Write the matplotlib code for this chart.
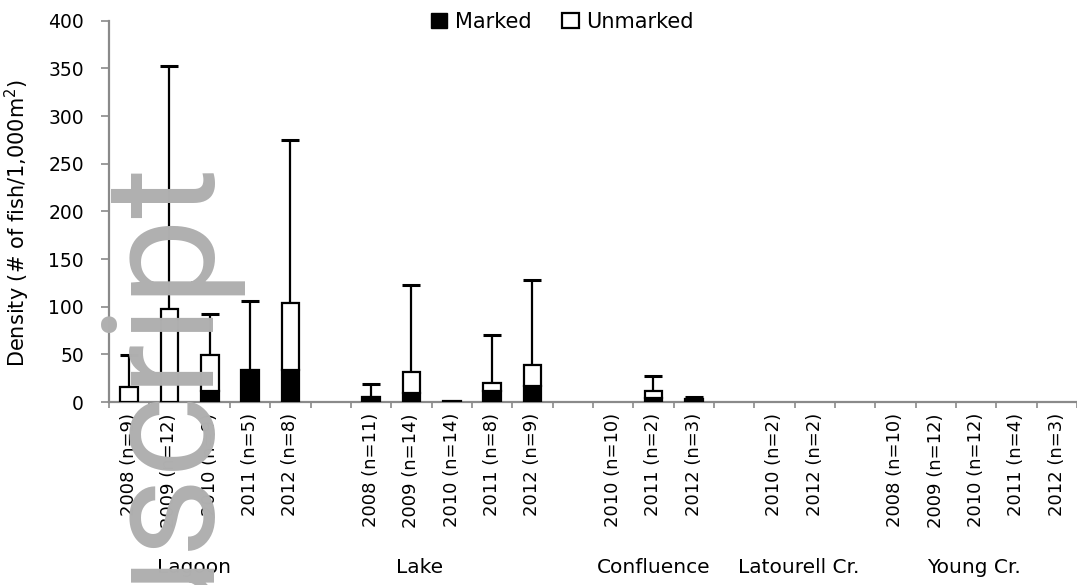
import matplotlib.pyplot as plt
import numpy as np
from matplotlib.patches import Patch

# categories (empty strings are the spacer slots between sites)
labels = ['2008 (n=9)', '2009 (n=12)', '2010 (n=9)', '2011 (n=5)', '2012 (n=8)', '',
          '2008 (n=11)', '2009 (n=14)', '2010 (n=14)', '2011 (n=8)', '2012 (n=9)', '',
          '2010 (n=10)', '2011 (n=2)', '2012 (n=3)', '',
          '2010 (n=2)', '2012 (n=2)', '',
          '2008 (n=10)', '2009 (n=12)', '2010 (n=12)', '2011 (n=4)', '2012 (n=3)']
marked = [0, 0, 12, 34, 34, 0,
          5, 9, 1.5, 12, 17, 0,
          0, 4, 3, 0,
          0, 0, 0,
          0, 0, 0, 0, 0]
unmarked = [16, 98, 37, 0, 70, 0,
            0, 22, 0, 8, 22, 0,
            0, 8, 0, 0,
            0, 0, 0,
            0, 0, 0, 0, 0]
err_up = [33, 255, 43, 72, 171, 0,
          14, 92, 0, 50, 89, 0,
          0, 15, 2, 0,
          0, 0, 0,
          0, 0, 0, 0, 0]
sites = ['Lagoon', 'Lake', 'Confluence', 'Latourell Cr.', 'Young Cr.']
site_x = [1.6, 7.2, 13.0, 16.6, 20.95]

plt.rcParams['font.family'] = ['DejaVu Sans']

fig = plt.figure(figsize=(10.77, 5.85), dpi=100)

# faint watermark behind the plot
fig.text(0.187, 0.737, 'Manuscript', rotation=90, rotation_mode='anchor',
         ha='right', va='baseline', fontsize=112, color='#b0b0b0',
         family=['Roboto', 'DejaVu Sans'], fontweight='normal', zorder=0)

ax = fig.add_axes([0.1012, 0.3128, 0.8988, 0.6518])
ax.patch.set_alpha(0)

x = np.arange(len(labels))
marked = np.array(marked, dtype=float)
unmarked = np.array(unmarked, dtype=float)
err_up = np.array(err_up, dtype=float)
total = marked + unmarked

w = 0.44
m = marked > 0
ax.bar(x[m], marked[m], width=w, color='black', edgecolor='black', linewidth=1.6, zorder=3)
u = unmarked > 0
ax.bar(x[u], unmarked[u], bottom=marked[u], width=w, color='white',
       edgecolor='black', linewidth=1.6, zorder=3)
e = err_up > 0
ax.errorbar(x[e], total[e], yerr=[np.zeros(e.sum()), err_up[e]], fmt='none',
            ecolor='black', elinewidth=1.6, capsize=6.5, capthick=2.2, zorder=2)

ax.set_xlim(-0.5, 23.28)
ax.set_ylim(0, 400)
ax.set_yticks(np.arange(0, 401, 50))
ax.tick_params(axis='y', length=6, width=1.2, color='#8a8a8a', pad=12, labelsize=13.5)

ax.set_xticks(np.arange(-0.5, 24, 1))
ax.set_xticklabels([])
ax.tick_params(axis='x', which='major', length=4, width=1.2, color='#8a8a8a')
ax.set_xticks(x, minor=True)
ax.set_xticklabels(labels, minor=True, rotation=90, fontsize=13)
ax.tick_params(axis='x', which='minor', length=0, pad=8)

for s in ['top', 'right']:
    ax.spines[s].set_visible(False)
for s in ['left', 'bottom']:
    ax.spines[s].set_color('#8a8a8a')
    ax.spines[s].set_linewidth(1.6)

ax.set_ylabel('Density (# of fish/1,000m$^2$)', fontsize=15)
ax.yaxis.set_label_coords(-0.08, 0.47)

for name, sx in zip(sites, site_x):
    ax.text(sx, -0.435, name, transform=ax.get_xaxis_transform(),
            ha='center', va='center', fontsize=14.5)

handles = [Patch(facecolor='black', edgecolor='black', label='Marked'),
           Patch(facecolor='white', edgecolor='black', linewidth=1.6, label='Unmarked')]
fig.legend(handles=handles, loc='upper center', bbox_to_anchor=(0.522, 1.012), ncol=2,
           frameon=False, fontsize=15, handlelength=0.8, handleheight=0.8,
           handletextpad=0.35, columnspacing=1.5)

fig.savefig('out.png', dpi=100)
